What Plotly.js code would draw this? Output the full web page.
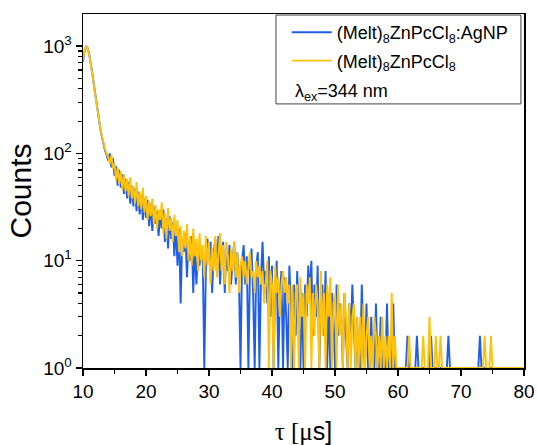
<!DOCTYPE html>
<html>
<head>
<meta charset="utf-8">
<script src="https://cdn.plot.ly/plotly-3.0.1.min.js"></script>
<style>html,body{margin:0;padding:0;background:#fff;}#chart{width:537px;height:445px;}</style>
</head>
<body>
<div id="chart"></div>
<script>
// time axis (µs)
const tau = [
10,10.25,10.5,10.75,11,11.25,11.5,11.75,12,12.25,12.5,12.75,13,13.25,13.5,13.75,14,14.25,14.5,14.75,
15,15.25,15.5,15.75,16,16.25,16.5,16.75,17,17.25,17.5,17.75,18,18.25,18.5,18.75,19,19.25,19.5,19.75,
20,20.25,20.5,20.75,21,21.25,21.5,21.75,22,22.25,22.5,22.75,23,23.25,23.5,23.75,24,24.25,24.5,24.75,
25,25.25,25.5,25.75,26,26.25,26.5,26.75,27,27.25,27.5,27.75,28,28.25,28.5,28.75,29,29.25,29.5,29.75,
30,30.25,30.5,30.75,31,31.25,31.5,31.75,32,32.25,32.5,32.75,33,33.25,33.5,33.75,34,34.25,34.5,34.75,
35,35.25,35.5,35.75,36,36.25,36.5,36.75,37,37.25,37.5,37.75,38,38.25,38.5,38.75,39,39.25,39.5,39.75,
40,40.25,40.5,40.75,41,41.25,41.5,41.75,42,42.25,42.5,42.75,43,43.25,43.5,43.75,44,44.25,44.5,44.75,
45,45.25,45.5,45.75,46,46.25,46.5,46.75,47,47.25,47.5,47.75,48,48.25,48.5,48.75,49,49.25,49.5,49.75,
50,50.25,50.5,50.75,51,51.25,51.5,51.75,52,52.25,52.5,52.75,53,53.25,53.5,53.75,54,54.25,54.5,54.75,
55,55.25,55.5,55.75,56,56.25,56.5,56.75,57,57.25,57.5,57.75,58,58.25,58.5,58.75,59,59.25,59.5,59.75,
60,60.25,60.5,60.75,61,61.25,61.5,61.75,62,62.25,62.5,62.75,63,63.25,63.5,63.75,64,64.25,64.5,64.75,
65,65.25,65.5,65.75,66,66.25,66.5,66.75,67,67.25,67.5,67.75,68,68.25,68.5,68.75,69,69.25,69.5,69.75,
70,70.25,70.5,70.75,71,71.25,71.5,71.75,72,72.25,72.5,72.75,73,73.25,73.5,73.75,74,74.25,74.5,74.75,
75,75.25,75.5,75.75,76,76.25,76.5,76.75,77,77.25,77.5,77.75,78,78.25,78.5,78.75,79,79.25,79.5,79.75,
80];

// counts: (Melt)8ZnPcCl8:AgNP
const countsAgNP = [
720,900,990,960,830,690,550,430,335,270,212,170,142,122,106,97,86,100,74,90,
62,76,50,70,48,64,42,58,38,54,34,50,32,47,29,44,27,41,24,38,
25,37,21,34,19,32,22,29,17,27,20,30,15,25,13,26,16,23,11,21,
9,20,4,16,12,18,7,15,10,17,5,14,6,12,9,13,11,1,8,16,
10,15,5,12,16,8,17,6,11,15,5,13,8,14,6,10,15,6,12,7,
1,10,14,6,11,1,8,13,5,1,9,12,1,7,15,6,8,4,11,3,
9,1,6,10,1,5,8,1,7,3,1,9,4,1,6,2,8,3,1,5,
1,6,3,9,5,10,2,6,3,9,1,4,6,2,8,1,4,1,5,3,
1,6,2,4,3,1,5,2,1,4,2,6,2,1,3,1,1,6,2,1,
4,1,1,3,1,1,4,1,1,3,1,1,1,4,1,1,1,4,1,1,
1,1,1,1,1,1,2,1,1,1,1,1,2,1,1,1,1,1,1,1,
1,2,1,1,1,1,1,1,1,1,1,1,2,1,1,1,1,1,1,1,
1,1,1,1,1,1,1,1,1,1,1,1,2,1,1,1,1,1,1,1,
1,1,1,1,1,1,1,1,1,1,1,1,1,1,1,1,1,1,1,1,
1];

// counts: (Melt)8ZnPcCl8
const countsPc = [
740,920,1000,950,820,680,540,420,330,265,210,172,145,125,110,100,92,80,96,72,
80,56,74,52,68,46,64,44,58,40,60,38,50,34,54,32,44,30,48,28,
40,24,36,26,38,22,33,20,30,24,35,18,28,16,31,19,25,15,27,17,
24,12,21,11,19,13,22,10,17,9,20,11,16,8,18,10,14,7,17,9,
15,6,13,8,17,7,12,18,8,14,6,15,11,5,13,8,15,7,12,5,
9,11,7,10,6,9,12,7,8,5,10,7,9,6,8,4,7,10,1,8,
6,1,9,5,7,3,6,8,5,7,4,6,1,6,1,5,6,1,7,3,
5,1,6,4,7,1,5,2,6,4,1,8,2,5,1,6,3,7,1,4,
5,1,6,2,4,1,5,3,1,4,1,3,4,1,3,1,3,1,4,1,
2,3,1,2,1,3,2,1,2,1,3,1,2,1,2,1,5,1,2,1,
1,1,1,1,1,1,1,2,1,1,1,1,1,1,1,1,2,1,1,1,
3,1,1,1,2,1,1,2,1,1,1,1,1,1,1,1,1,1,1,1,
1,1,1,1,1,1,1,1,1,1,1,1,1,1,1,2,1,1,1,2,
1,1,1,1,1,1,1,1,1,1,1,1,1,1,1,1,1,1,1,1,
1];

const seriesNames = ['(Melt)<sub>8</sub>ZnPcCl<sub>8</sub>:AgNP', '(Melt)<sub>8</sub>ZnPcCl<sub>8</sub>'];
const yTickVals = [1, 10, 100, 1000];
const yTickText = ['10<sup>0</sup>', '10<sup>1</sup>', '10<sup>2</sup>', '10<sup>3</sup>'];
const xTickVals = [10, 20, 30, 40, 50, 60, 70, 80];
const noteText = '\u03bb<sub>ex</sub>=344 nm';

const font = 'Liberation Sans, Arial, sans-serif';
const traces = [
  {x: tau, y: countsAgNP, type: 'scatter', mode: 'lines', name: seriesNames[0], legendgroup: 'a',
   line: {color: '#1f5ee6', width: 1.9}},
  {x: tau, y: countsPc, type: 'scatter', mode: 'lines', name: seriesNames[1], legendgroup: 'b',
   line: {color: '#ffc20a', width: 1.9}}
];
const layout = {
  width: 537, height: 445,
  margin: {l: 83, r: 13, t: 14, b: 77},
  paper_bgcolor: '#fff', plot_bgcolor: '#fff',
  font: {family: font, color: '#000', size: 18},
  showlegend: true,
  legend: {x: 0.462, y: 1.0, xanchor: 'left', yanchor: 'top', bgcolor: 'rgba(0,0,0,0)',
           borderwidth: 0, font: {family: font, size: 18, color: '#000'}, itemwidth: 40,
           tracegroupgap: 2},
  xaxis: {range: [10, 80], tickmode: 'array', tickvals: xTickVals, ticktext: xTickVals.map(String),
          ticks: 'outside', ticklen: 6, tickwidth: 1.5, tickcolor: '#000',
          minor: {dtick: 5, ticks: 'outside', ticklen: 4, tickwidth: 1.5, tickcolor: '#000', showgrid: false},
          showline: true, linecolor: '#000', linewidth: 1.5, mirror: true, showgrid: false, zeroline: false,
          tickfont: {size: 19, family: font},
          title: {text: '<span style="font-family:Liberation Serif">\u03c4 [\u03bc</span>s]', font: {size: 25, family: font}, standoff: 22},
          automargin: false},
  yaxis: {type: 'log', range: [0, 3.30], tickmode: 'array', tickvals: yTickVals, ticktext: yTickText,
          ticks: 'outside', ticklen: 6, tickwidth: 1.5, tickcolor: '#000',
          minor: {dtick: 'D1', ticks: 'outside', ticklen: 3.5, tickwidth: 1.2, tickcolor: '#000', showgrid: false},
          showline: true, linecolor: '#000', linewidth: 1.5, mirror: true, showgrid: false, zeroline: false,
          tickfont: {size: 19, family: font},
          title: {text: 'Counts', font: {size: 30, family: font}, standoff: 2},
          automargin: false},
  shapes: [{type: 'rect', xref: 'paper', yref: 'paper', x0: 0.4376, x1: 0.993, y0: 0.746, y1: 0.997,
            line: {color: '#444', width: 1}, fillcolor: 'rgba(0,0,0,0)'}],
  annotations: [{xref: 'paper', yref: 'paper', x: 0.477, y: 0.778, xanchor: 'left', yanchor: 'middle',
                 text: noteText, showarrow: false, font: {family: font, size: 18, color: '#000'}}]
};
Plotly.newPlot('chart', traces, layout, {displayModeBar: false, staticPlot: true});
</script>
</body>
</html>
